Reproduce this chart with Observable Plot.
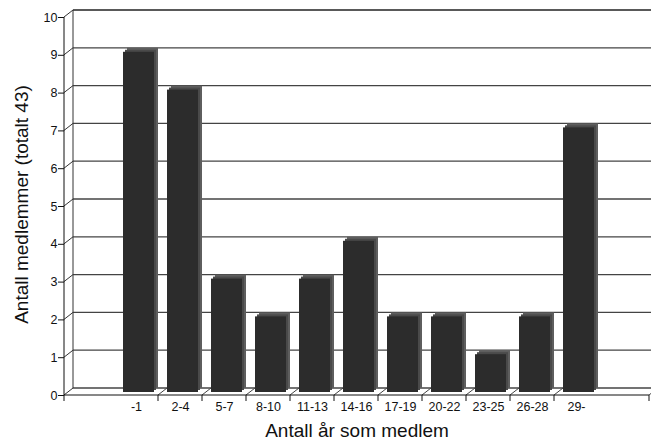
<!DOCTYPE html>
<html>
<head>
<meta charset="utf-8">
<script src="https://cdn.jsdelivr.net/npm/d3@7"></script>
<script src="https://cdn.jsdelivr.net/npm/@observablehq/plot@0.6"></script>
<style>
  body { margin: 0; background: #fff; }
  #chart svg { display: block; overflow: visible; }
</style>
</head>
<body>
<div id="chart"></div>
<script>
// ---- data ----
const categories = ["-1", "2-4", "5-7", "8-10", "11-13", "14-16", "17-19", "20-22", "23-25", "26-28", "29-"];
const counts = [9, 8, 3, 2, 3, 4, 2, 2, 1, 2, 7];
const yTicks = [0, 1, 2, 3, 4, 5, 6, 7, 8, 9, 10];
const padStart = " ";
const padEnd = "  ";
const xTitle = "Antall år som medlem";
const yTitle = "Antall medlemmer (totalt 43)";

const domainX = [padStart, ...categories, padEnd];
const rows = categories.map((c, i) => ({cat: c, n: counts[i]}));

// 3D depth offset (pixels)
const DX = 9, DY = -7;

function wallAndFloor(index, scales, values, dims) {
  const {x, y} = scales;
  const g = d3.create("svg:g");
  const left = dims.marginLeft;
  const right = dims.width - dims.marginRight;
  const y0 = y(0);
  const line = (x1, y1, x2, y2, stroke, w) =>
    g.append("line").attr("x1", x1).attr("y1", y1).attr("x2", x2).attr("y2", y2)
      .attr("stroke", stroke).attr("stroke-width", w);
  // back wall gridlines + connectors from front axis
  for (const t of yTicks) {
    const yy = y(t);
    line(left + DX, yy + DY, dims.width + 2, yy + DY, t === 10 ? "#222" : "#444", 1.3);
    line(left, yy, left + DX, yy + DY, "#333", 1);
  }
  // left wall edge
  line(left + DX, y(10) + DY, left + DX, y0 + DY, "#333", 1);
  // floor connectors between categories
  for (let i = 1; i < categories.length; i++) {
    const xb = x(categories[i]);
    line(xb, y0, xb + DX, y0 + DY, "#444", 1);
  }
  line(right, y0, right + DX, y0 + DY, "#444", 1);
  return g.node();
}

function frontAxes(index, scales, values, dims) {
  const {x, y} = scales;
  const g = d3.create("svg:g");
  const left = dims.marginLeft;
  const right = dims.width - dims.marginRight;
  const y0 = y(0);
  const line = (x1, y1, x2, y2) =>
    g.append("line").attr("x1", x1).attr("y1", y1).attr("x2", x2).attr("y2", y2)
      .attr("stroke", "#111").attr("stroke-width", 1);
  line(left, y(10), left, y0 + 6);
  line(left, y0, right, y0);
  for (let i = 1; i < categories.length; i++) {
    const xb = x(categories[i]);
    line(xb, y0, xb, y0 + 6);
  }
  line(right, y0, right, y0 + 6);
  return g.node();
}

const chart = Plot.plot({
  width: 651,
  height: 440,
  marginTop: 17,
  marginBottom: 45,
  marginLeft: 64,
  marginRight: 2,
  style: {fontFamily: "'Liberation Sans', Arial, sans-serif", fontSize: "12.5px", color: "#111", background: "#fff"},
  x: {domain: domainX, padding: 0, insetLeft: 3, insetRight: 4, label: null},
  y: {domain: [0, 10], label: null},
  marks: [
    wallAndFloor,
    // depth extrusion (side + top faces)
    Plot.barY(rows, {x: "cat", y: "n", insetLeft: 13, insetRight: 0, dy: -7, fill: "#5e5e5e"}),
    Plot.barY(rows, {x: "cat", y: "n", insetLeft: 11, insetRight: 2, dy: -5, fill: "#4a4a4a"}),
    // front face
    Plot.barY(rows, {x: "cat", y: "n", insetLeft: 9, insetRight: 4, dy: -3, fill: "#2c2c2c"}),
    frontAxes,
    Plot.axisY(yTicks, {tickSize: 6, tickPadding: 1, fontSize: 12.5, label: null}),
    Plot.axisX(categories, {tickSize: 0, tickPadding: 7, fontSize: 12.5, label: null}),
    Plot.text([yTitle], {frameAnchor: "left", textAnchor: "middle", lineAnchor: "middle", rotate: -90, dx: -43, dy: -2, fontSize: 19}),
    Plot.text([xTitle], {frameAnchor: "bottom", textAnchor: "middle", lineAnchor: "middle", dy: 35, fontSize: 19})
  ]
});

document.getElementById("chart").appendChild(chart);
</script>
</body>
</html>
